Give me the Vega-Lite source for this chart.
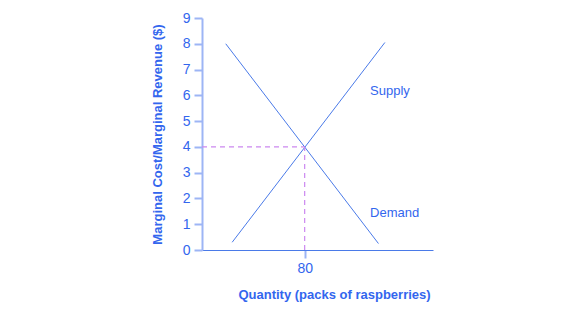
{
  "$schema": "https://vega.github.io/schema/vega-lite/v6.json",
  "width": 231,
  "height": 232,
  "padding": {"left": 202, "top": 18, "right": 10, "bottom": 68},
  "autosize": {"type": "none"},
  "background": "white",
  "config": {
    "view": {"stroke": null},
    "font": "Liberation Sans",
    "axis": {"grid": false, "labelFont": "Liberation Sans", "titleFont": "Liberation Sans", "labelColor": "#3366ee", "titleColor": "#3366ee", "labelFontSize": 14, "titleFontSize": 13, "titleFontWeight": "bold", "labelOverlap": false}
  },
  "resolve": {"axis": {"x": "shared", "y": "shared"}},
  "layer": [
    {
      "data": {"values": [
        {"series": "Supply", "q": 23.5, "p": 0.3},
        {"series": "Supply", "q": 142.5, "p": 8.05},
        {"series": "Demand", "q": 18.5, "p": 8.0},
        {"series": "Demand", "q": 137.5, "p": 0.25}
      ]},
      "mark": {"type": "line", "color": "#4a7ae8", "strokeWidth": 1},
      "encoding": {
        "x": {"field": "q", "type": "quantitative", "scale": {"domain": [0, 180], "nice": false},
          "axis": {"values": [80], "title": "Quantity (packs of raspberries)", "titlePadding": 13, "titleX": 132, "domainColor": "#4a7ae8", "domainWidth": 1, "tickColor": "#9db5f5", "tickSize": 8, "tickWidth": 2, "labelPadding": 3}},
        "y": {"field": "p", "type": "quantitative", "scale": {"domain": [0, 9], "nice": false},
          "axis": {"values": [0,1,2,3,4,5,6,7,8,9], "tickCount": 10, "labelOverlap": false, "title": "Marginal Cost/Marginal Revenue ($)", "titlePadding": 18, "domainColor": "#9db5f5", "domainWidth": 2, "tickColor": "#9db5f5", "tickSize": 8, "tickWidth": 2, "labelPadding": 4}},
        "detail": {"field": "series"}
      }
    },
    {
      "data": {"values": [
        {"q": 0, "q2": 80, "p": 4, "p2": 4},
        {"q": 80, "q2": 80, "p": 0, "p2": 4}
      ]},
      "mark": {"type": "rule", "color": "#cc88f0", "strokeDash": [5, 4], "strokeWidth": 1.2},
      "encoding": {
        "x": {"field": "q", "type": "quantitative", "axis": {"values": [80]}},
        "x2": {"field": "q2"},
        "y": {"field": "p", "type": "quantitative", "axis": {"values": [0,1,2,3,4,5,6,7,8,9]}},
        "y2": {"field": "p2"}
      }
    },
    {
      "data": {"values": [
        {"label": "Supply", "q": 131, "p": 6.16},
        {"label": "Demand", "q": 131, "p": 1.45}
      ]},
      "mark": {"type": "text", "align": "left", "baseline": "middle", "color": "#3366ee", "fontSize": 13, "font": "Liberation Sans"},
      "encoding": {
        "x": {"field": "q", "type": "quantitative", "axis": {"values": [80]}},
        "y": {"field": "p", "type": "quantitative", "axis": {"values": [0,1,2,3,4,5,6,7,8,9]}},
        "text": {"field": "label"}
      }
    }
  ]
}
